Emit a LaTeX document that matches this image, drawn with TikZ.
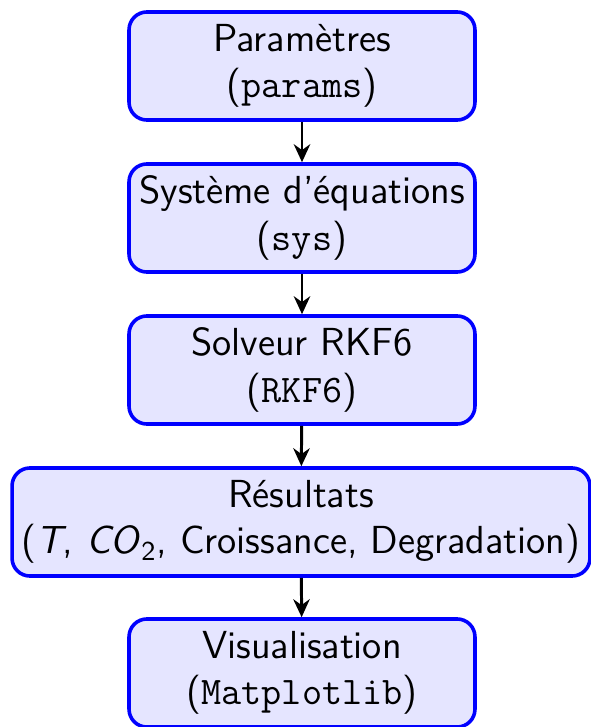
\documentclass[tikz,border=0pt]{standalone}
\usetikzlibrary{arrows.meta}
\begin{document}
\begin{tikzpicture}[x=0.335pt,y=-0.335pt,
  stage/.style={draw=blue, fill=blue!10, line width=1.2pt, rounded corners=6pt,
    align=center, minimum width=115.9pt, minimum height=36.2pt, inner sep=1pt,
    font=\sffamily\fontsize{13.1}{15.6}\selectfont},
  flow/.style={-{Stealth[length=6pt,width=5.5pt]}, line width=1pt}]
\useasboundingbox (0,0) rectangle (590,727);
\node[stage] (p) at (302,66) {Paramètres\\(\texttt{params})};
\node[stage] (s) at (302,218) {Système d'équations\\(\texttt{sys})};
\node[stage] (r) at (302,370) {Solveur RKF6\\(\texttt{RKF6})};
\node[stage, minimum width=193.6pt] (res) at (301,522) {Résultats\\(\textit{T}, \textit{CO}\textsubscript{2}, Croissance, Degradation)};
\node[stage] (v) at (302,673) {Visualisation\\(\texttt{Matplotlib})};
\draw[flow] (p) -- (s);
\draw[flow] (s) -- (r);
\draw[flow] (r) -- (res);
\draw[flow] (res) -- (v);
\end{tikzpicture}
\end{document}
